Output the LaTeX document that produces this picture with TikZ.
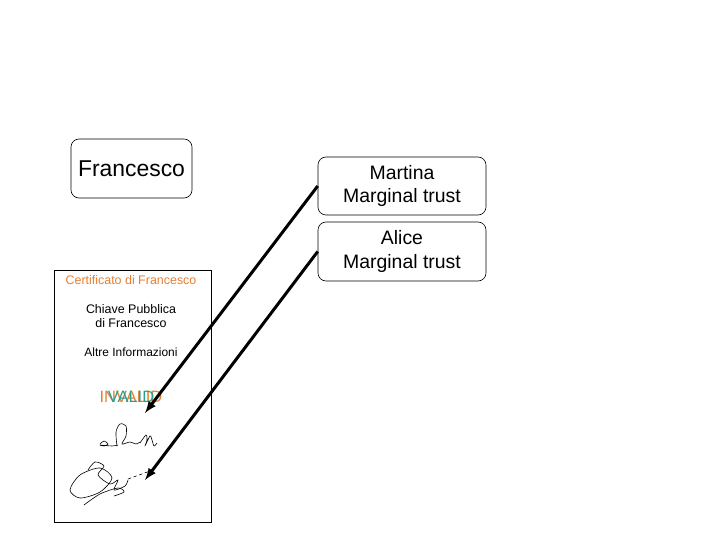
\documentclass[tikz,border=0pt]{standalone}
\usepackage{fontspec}
\setmainfont{Liberation Sans}
\usetikzlibrary{positioning}

\definecolor{certorange}{RGB}{230,126,50}
\definecolor{validteal}{RGB}{40,160,140}

\begin{document}
\begin{tikzpicture}[x=1bp, y=-1bp,
  person/.style={draw, rounded corners=8bp, align=center, inner sep=0pt, line width=0.6bp},
  certtext/.style={align=center, inner sep=0pt, font=\fontsize{12.5}{14}\selectfont},
  sign/.style={line width=0.6bp, line join=round, line cap=round}]

  \useasboundingbox (0,0) rectangle (720,540);

  % the three people
  \node[person, minimum width=121bp, minimum height=59bp, font=\fontsize{23}{26}\selectfont]
    (francesco) at (131.5,168.5) {Francesco};
  \node[person, minimum width=168bp, minimum height=58bp, font=\fontsize{19.5}{24}\selectfont]
    (martina) at (402,186) {Martina\\Marginal trust};
  \node[person, minimum width=168bp, minimum height=59bp, font=\fontsize{19.5}{24}\selectfont]
    (alice) at (402,251.5) {Alice\\Marginal trust};

  % the certificate
  \node[draw, line width=0.6bp, minimum width=157bp, minimum height=252bp] (cert) at (132.5,396) {};
  \node[certtext, text=certorange] (certtitle) at (131,280) {Certificato di Francesco};
  \node[certtext] (certkey) at (131,316) {Chiave Pubblica\\di Francesco};
  \node[certtext, font=\fontsize{12}{14}\selectfont] (certinfo) at (131,352) {Altre Informazioni};
  \node[certtext, text=certorange, font=\fontsize{16.5}{18}\selectfont] (invalid) at (131,397) {INVALID};
  \node[certtext, text=validteal, font=\fontsize{16.5}{18}\selectfont] (valid) at (131,397) {VALID};

  % signatures
  \draw[sign] plot[smooth] coordinates {(100,444) (104,441) (108,444) (104,446) (100,445) (112,446) (118,445)};
  \draw[sign] plot[smooth] coordinates {(117,446) (116,432) (120,424) (126,426) (126,436) (122,444) (130,442) (136,444) (140,442)};
  \draw[sign] plot[smooth] coordinates {(140,443) (146,435) (147,440) (145,446) (150,436) (152,440) (154,446) (157,443)};
  \draw[sign] plot[smooth cycle] coordinates {(70,490) (80,475) (100,468) (112,478) (100,492) (80,498)};
  \draw[sign] plot[smooth] coordinates {(88,470) (95,462) (104,466) (98,475) (110,484) (118,480) (114,490) (125,486) (128,480)};
  \draw[sign] plot[smooth] coordinates {(84,505) (100,494) (118,488) (124,492) (114,496)};
  \coordinate (tailA) at (128,479);
  \coordinate (tailB) at (150,471);
  \draw[sign, dash pattern=on 3bp off 3bp] (tailA) -- (tailB);

  % who signed
  \coordinate (sigA) at (145,413);
  \coordinate (sigB) at (145,480);
  \draw[->, >=latex, line width=3bp] (martina.west) -- (sigA); %% Martina
  \draw[->, >=latex, line width=3bp] (alice.west) -- (sigB); %% Alice
\end{tikzpicture}
\end{document}
